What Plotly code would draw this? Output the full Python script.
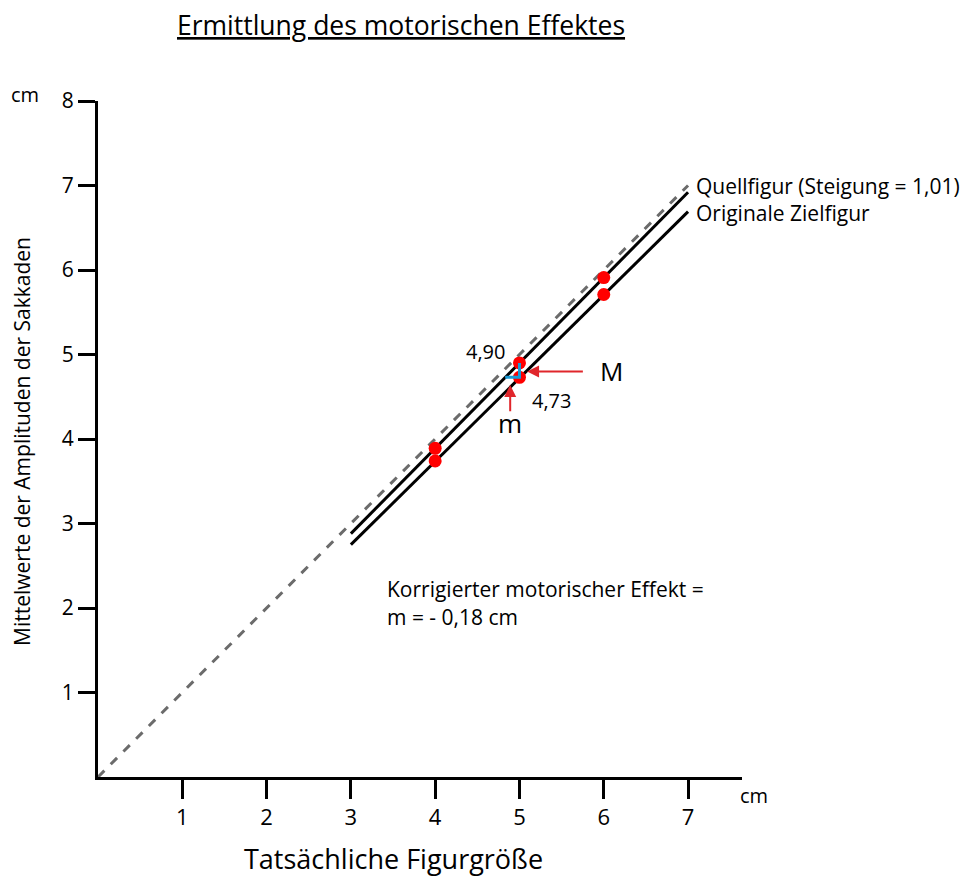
import plotly.graph_objects as go

# Data
x_points = [4, 5, 6]
quell_points = [3.89, 4.90, 5.91]
ziel_points = [3.74, 4.73, 5.71]
diag_x = [0, 7]
diag_y = [0, 7]
quell_line_x = [3, 7]
quell_line_y = [2.88, 6.92]
ziel_line_x = [3, 7]
ziel_line_y = [2.75, 6.69]
delta_x = [4.83, 5, 5]
delta_y = [4.73, 4.73, 4.90]
x_ticks = [1, 2, 3, 4, 5, 6, 7]
y_ticks = [1, 2, 3, 4, 5, 6, 7, 8]

FONT = "Open Sans"
OFF = 8  # page body margin
W, H = 971 - OFF, 876 - OFF
ML, MT = 98 - OFF, 101 - OFF
MR = W - (742 - OFF)
MB = H - (777 - OFF)
PW, PH = W - ML - MR, H - MT - MB

def px(x):
    return (x - OFF - ML) / PW

def py(y):
    return (H - MB - (y - OFF)) / PH

fig = go.Figure()
fig.add_trace(go.Scatter(x=diag_x, y=diag_y, mode="lines",
                         line=dict(color="#6b6b6b", width=3, dash="dash"), hoverinfo="skip"))
fig.add_trace(go.Scatter(x=quell_line_x, y=quell_line_y, mode="lines",
                         line=dict(color="black", width=3), hoverinfo="skip"))
fig.add_trace(go.Scatter(x=ziel_line_x, y=ziel_line_y, mode="lines",
                         line=dict(color="black", width=3), hoverinfo="skip"))
fig.add_trace(go.Scatter(x=x_points, y=quell_points, mode="markers",
                         marker=dict(color="#ff0000", size=13), cliponaxis=False))
fig.add_trace(go.Scatter(x=x_points, y=ziel_points, mode="markers",
                         marker=dict(color="#ff0000", size=13), cliponaxis=False))
fig.add_trace(go.Scatter(x=delta_x, y=delta_y, mode="lines",
                         line=dict(color="#1a9ad6", width=3), hoverinfo="skip"))

anns = []
def txt(x, y, s, size=21, xanchor="center", xref="x", yref="y", angle=0):
    anns.append(dict(x=x, y=y, xref=xref, yref=yref, text=s, showarrow=False,
                     xanchor=xanchor, yanchor="middle", textangle=angle,
                     font=dict(family=FONT, size=size, color="black")))

txt(4.60, 5.03, "4,90", 20)
txt(5.38, 4.46, "4,73", 20)
txt(5.93, 4.80, "M", 26, xanchor="left")
txt(4.89, 4.19, "m", 26)
txt(7.07, 7.0, "Quellfigur (Steigung = 1,01)", 21, xanchor="left")
txt(7.07, 6.68, "Originale Zielfigur", 21, xanchor="left")
txt(3.4, 2.23, "Korrigierter motorischer Effekt =", 21, xanchor="left")
txt(3.4, 1.89, "m = - 0,18 cm", 21, xanchor="left")
txt(px(754), py(795), "cm", 20, xref="paper", yref="paper")
txt(px(25), py(94), "cm", 20, xref="paper", yref="paper")

# Axis titles and chart title (placed by pixel position)
txt(px(401), py(25), "<u>Ermittlung des motorischen Effektes</u>", 26.5, xref="paper", yref="paper")
txt(px(393), py(858), "Tatsächliche Figurgröße", 27, xref="paper", yref="paper")
txt(px(22), py(442), "Mittelwerte der Amplituden der Sakkaden", 21, xref="paper", yref="paper", angle=-90)

# Arrows
anns.append(dict(x=5.09, y=4.80, ax=5.77, ay=4.80, xref="x", yref="y", axref="x", ayref="y",
                 text="", showarrow=True, arrowhead=2, arrowsize=1.2, arrowwidth=2, arrowcolor="#e0262b"))
anns.append(dict(x=4.89, y=4.64, ax=4.89, ay=4.31, xref="x", yref="y", axref="x", ayref="y",
                 text="", showarrow=True, arrowhead=2, arrowsize=1.2, arrowwidth=2, arrowcolor="#e0262b"))

fig.update_layout(
    width=W, height=H,
    margin=dict(l=ML, r=MR, t=MT, b=MB),
    plot_bgcolor="white", paper_bgcolor="white",
    showlegend=False,
    font=dict(family=FONT, color="black"),
    annotations=anns,
    xaxis=dict(range=[0, 7.64], tickvals=x_ticks, ticktext=[str(v) for v in x_ticks],
               showgrid=False, zeroline=False, showline=True, linecolor="black", linewidth=3,
               ticks="outside", ticklen=19, tickwidth=3, tickcolor="black", automargin=False,
               tickfont=dict(family=FONT, size=22)),
    yaxis=dict(range=[0, 8], tickvals=y_ticks, ticktext=[str(v) for v in y_ticks],
               showgrid=False, zeroline=False, showline=True, linecolor="black", linewidth=3,
               ticks="outside", ticklen=17, tickwidth=3, tickcolor="black", automargin=False,
               tickfont=dict(family=FONT, size=21)),
)

fig.write_html("out.html")
